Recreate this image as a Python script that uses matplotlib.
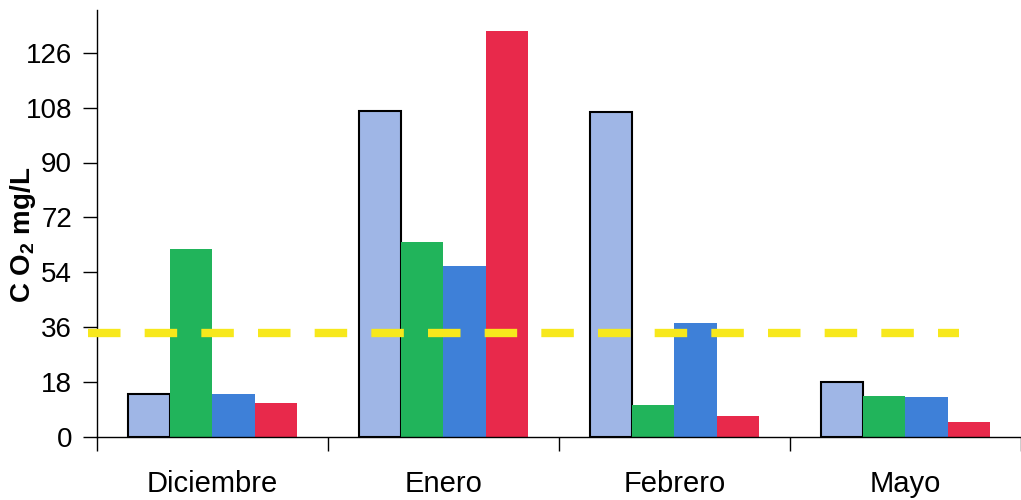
import matplotlib
matplotlib.use("Agg")
import matplotlib.pyplot as plt
import numpy as np

months = ["Diciembre", "Enero", "Febrero", "Mayo"]
serie_1 = [14, 107, 106.5, 18]
serie_2 = [61.5, 64, 10.5, 13.5]
serie_3 = [14, 56, 37.5, 13]
serie_4 = [11, 133, 7, 5]
threshold = 34
y_ticks = [0, 18, 36, 54, 72, 90, 108, 126]

colors = ["#9fb6e6", "#21b45b", "#3e80d8", "#e8294b"]
plt.rcParams['font.family'] = ['Liberation Sans', 'DejaVu Sans']
plt.rcParams['mathtext.fontset'] = 'custom'
plt.rcParams['mathtext.rm'] = 'Liberation Sans'
plt.rcParams['mathtext.bf'] = 'Liberation Sans:bold'

fig = plt.figure(figsize=(10.21, 5.0), dpi=100)
ax = fig.add_axes([0.095, 0.126, 0.905, 0.854])

x = np.arange(len(months))
w = 0.182
series = [serie_1, serie_2, serie_3, serie_4]
for i, (vals, c) in enumerate(zip(series, colors)):
    ec = "black" if i == 0 else "none"
    lw = 1.5 if i == 0 else 0
    ax.bar(x + (i - 1.5) * w, vals, width=w, color=c, edgecolor=ec, linewidth=lw, zorder=2)

ax.plot([-0.538, 3.23], [threshold, threshold], color="#f7e81c", linewidth=6,
        linestyle=(0, (3.9, 2.9)), clip_on=False, zorder=3)

ax.set_xlim(-0.5, 3.48)
ax.set_ylim(0, 140)
ax.set_yticks(y_ticks)
ax.set_yticklabels([str(t) for t in y_ticks], fontsize=20)
ax.set_xticks(x)
ax.set_xticklabels(months, fontsize=21)
ax.set_xticks(np.arange(len(months) + 1) - 0.5, minor=True)
ax.tick_params(axis='x', which='major', length=0, pad=24)
ax.tick_params(axis='x', which='minor', length=10, width=1, direction='out')
ax.tick_params(axis='y', length=10, width=1, direction='out', pad=8)

for s in ["top", "right"]:
    ax.spines[s].set_visible(False)
ax.spines["left"].set_linewidth(1)
ax.spines["bottom"].set_linewidth(1)

ax.set_ylabel(r"C O$_\mathbf{2}$ mg/L", fontsize=20, fontweight="bold")
ax.yaxis.set_label_coords(-0.064, 0.473)

fig.savefig("out.png", dpi=100)
